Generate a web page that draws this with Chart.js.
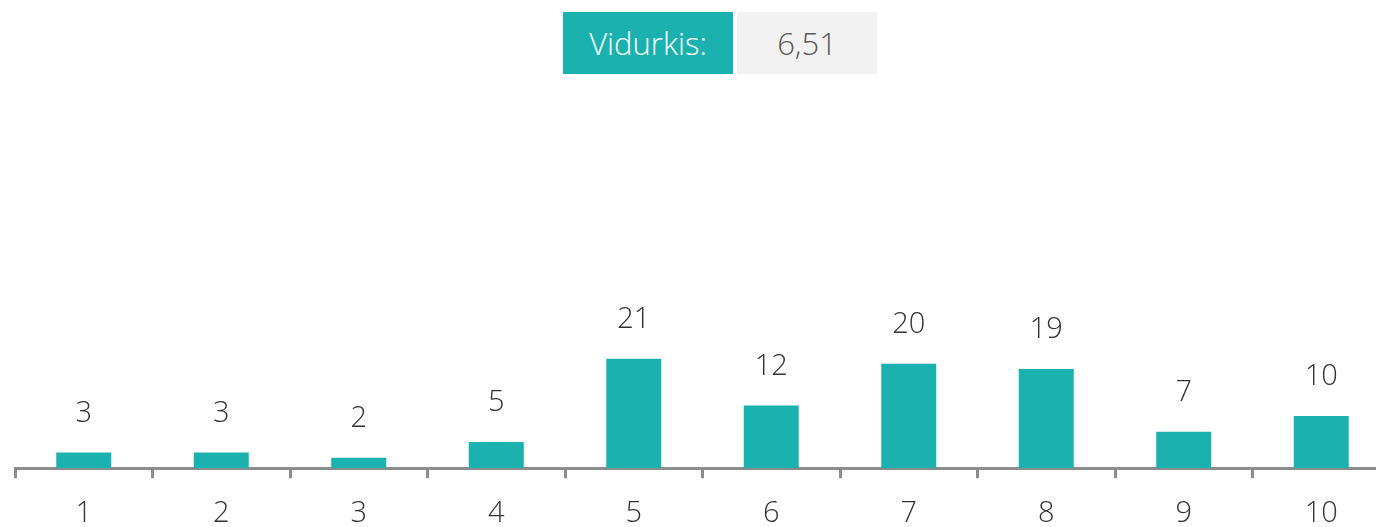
<!DOCTYPE html>
<html>
<head>
<meta charset="utf-8">
<script src="https://cdn.jsdelivr.net/npm/chart.js@4/dist/chart.umd.min.js"></script>
<style>
  html, body { margin: 0; padding: 0; background: #fff; overflow: hidden; }
  #wrap { position: relative; width: 1376px; height: 527px; overflow: hidden; }
  #box { position: absolute; left: 0; top: 0; width: 1393px; height: 549px; }
  .hdr { position: absolute; top: 12px; height: 62px; line-height: 62px; font-family: "Open Sans", "Segoe UI", sans-serif; font-weight: 300; font-size: 31px; text-align: center; }
  #h1 { left: 563px; width: 170px; background: #1bb1ae; color: #ffffff; }
  #h2 { left: 737px; width: 140px; background: #f2f2f2; color: #595959; }
</style>
</head>
<body>
<div id="wrap">
  <div id="box"><canvas id="c"></canvas></div>
  <div class="hdr" id="h1">Vidurkis:</div>
  <div class="hdr" id="h2">6,51</div>
</div>
<script>
const categories = ["1", "2", "3", "4", "5", "6", "7", "8", "9", "10"];
const values = [3, 3, 2, 5, 21, 12, 20, 19, 7, 10];
const headerLabel = "Vidurkis:";
const headerValue = "6,51";

const FONT = '"Open Sans", "Segoe UI", sans-serif';

const valueLabels = {
  id: 'valueLabels',
  afterDatasetsDraw(chart) {
    const ctx = chart.ctx;
    const meta = chart.getDatasetMeta(0);
    ctx.save();
    ctx.fillStyle = '#333333';
    ctx.font = '300 29px ' + FONT;
    ctx.textAlign = 'center';
    ctx.textBaseline = 'middle';
    meta.data.forEach((bar, i) => {
      ctx.fillText(String(values[i]), bar.x, bar.y - 39);
    });
    ctx.restore();
  }
};

new Chart(document.getElementById('c'), {
  type: 'bar',
  data: {
    labels: categories,
    datasets: [{
      data: values,
      backgroundColor: '#1bb1ae',
      borderWidth: 0,
      categoryPercentage: 1.0,
      barPercentage: 0.4
    }]
  },
  options: {
    responsive: true,
    maintainAspectRatio: false,
    animation: false,
    layout: { padding: { left: 15, right: 3, top: 103, bottom: 0 } },
    plugins: { legend: { display: false }, tooltip: { enabled: false } },
    scales: {
      x: {
        offset: true,
        grid: {
          offset: true,
          drawOnChartArea: false,
          drawTicks: true,
          tickLength: 10,
          tickWidth: 3,
          tickColor: '#8c8c8c'
        },
        border: { display: true, color: '#8c8c8c', width: 3 },
        ticks: {
          color: '#333333',
          padding: 18,
          font: { family: FONT, size: 29, weight: 300 }
        }
      },
      y: {
        display: false,
        min: 0,
        max: 70
      }
    }
  },
  plugins: [valueLabels]
});
</script>
</body>
</html>
